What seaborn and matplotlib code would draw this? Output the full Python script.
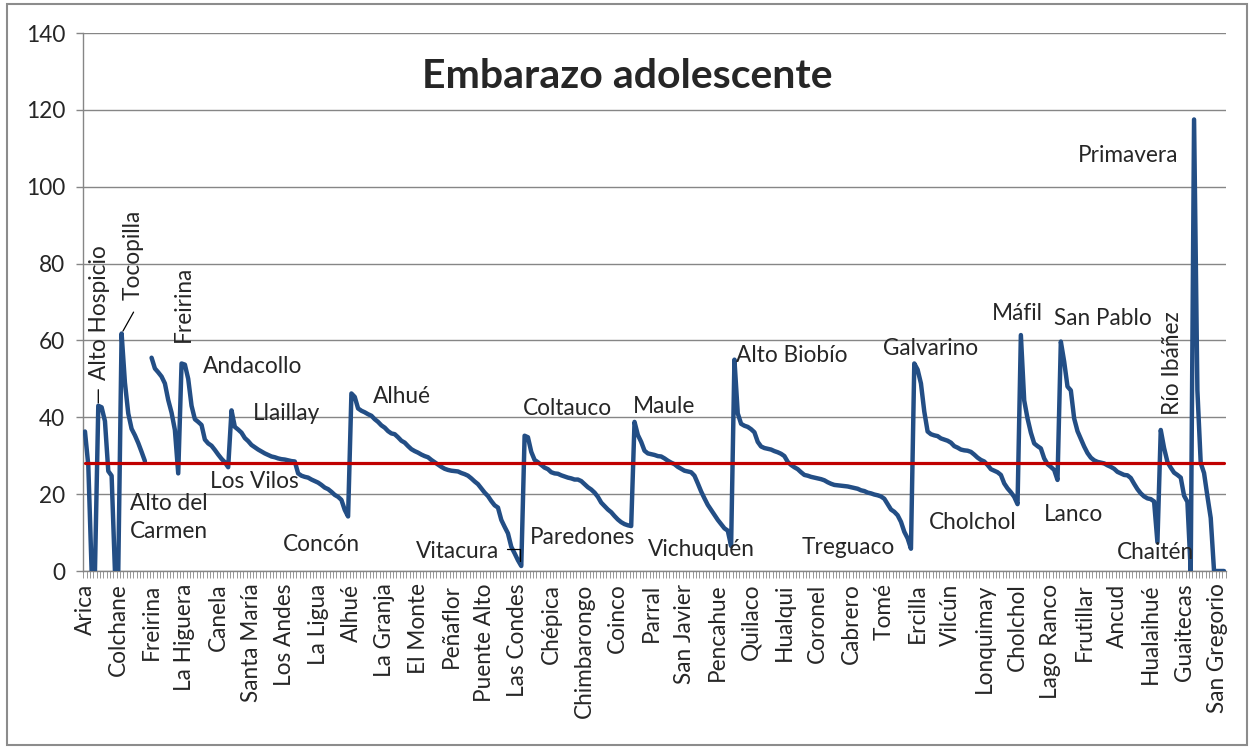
import numpy as np
import pandas as pd
import seaborn as sns
import matplotlib.pyplot as plt
from matplotlib.patches import Rectangle

# tasas por comuna, agrupadas por region (cada region ordenada de mayor a menor)
arica_parinacota = [36.3, 27.5, 0.0, 0.0]
tarapaca = [43.0, 42.6, 39.0, 26.0, 24.8, 0.0, 0.0]
antofagasta = [61.8, 49.0, 41.0, 37.0, 35.3, 33.3, 31.0, 28.6, None]
atacama = [55.5, 52.7, 51.7, 50.6, 48.8, 44.5, 41.2, 36.7, 25.4]
coquimbo = [54.0, 53.7, 50.0, 43.0, 39.5, 38.8, 38.0, 34.2, 33.2, 32.6, 31.5, 30.3,
            29.2, 28.3, 27.0]
valparaiso = [41.8, 37.5, 36.8, 36.0, 34.6, 33.8, 32.8, 32.2, 31.6, 31.1, 30.6, 30.2,
              29.8, 29.6, 29.3, 29.1, 29.0, 28.8, 28.6, 28.5, 25.4, 24.8, 24.5, 24.3,
              23.8, 23.4, 23.0, 22.4, 21.7, 21.3, 20.6, 19.8, 19.3, 18.5, 15.9, 14.2]
metropolitana = [46.2, 45.3, 42.3, 41.7, 41.3, 40.8, 40.4, 39.5, 38.8, 37.9, 37.3, 36.4,
                 35.8, 35.6, 34.8, 33.9, 33.4, 32.5, 31.7, 31.2, 30.8, 30.3, 29.9, 29.6,
                 28.9, 28.3, 27.7, 27.1, 26.6, 26.3, 26.1, 26.0, 25.9, 25.5, 25.2, 24.8,
                 24.1, 23.3, 22.6, 21.5, 20.4, 19.5, 18.2, 17.1, 16.5, 13.3, 11.5, 9.8,
                 6.3, 4.6, 2.8, 1.3]
ohiggins = [35.2, 34.8, 31.0, 28.9, 28.3, 27.6, 26.9, 26.5, 25.7, 25.4, 25.3, 24.9,
            24.6, 24.3, 24.1, 23.8, 23.8, 23.4, 22.6, 21.8, 21.2, 20.4, 19.3, 17.8,
            16.9, 16.0, 15.3, 14.3, 13.4, 12.7, 12.2, 11.9, 11.7]
maule = [38.8, 35.4, 33.6, 31.3, 30.6, 30.4, 30.2, 29.9, 29.8, 29.3, 28.7, 28.2,
         27.8, 27.1, 26.6, 26.1, 25.9, 25.7, 24.8, 22.8, 20.7, 18.9, 17.2, 15.9,
         14.6, 13.3, 12.2, 11.1, 10.5, 6.5]
biobio = [55.0, 41.0, 38.3, 37.8, 37.5, 36.9, 36.1, 33.6, 32.4, 32.0, 31.8, 31.6,
          31.2, 30.9, 30.5, 29.9, 28.4, 27.6, 27.0, 26.5, 25.7, 25.0, 24.8, 24.5,
          24.3, 24.1, 23.9, 23.6, 23.1, 22.7, 22.4, 22.3, 22.2, 22.1, 22.0, 21.8,
          21.6, 21.4, 21.0, 20.8, 20.4, 20.2, 19.9, 19.7, 19.4, 18.8, 17.4, 16.0,
          15.4, 14.5, 12.8, 10.2, 8.5, 5.8]
araucania = [54.0, 52.4, 48.8, 41.5, 36.3, 35.6, 35.3, 35.1, 34.5, 34.2, 33.9, 33.4,
             32.5, 32.1, 31.6, 31.4, 31.3, 31.0, 30.3, 29.5, 28.9, 28.5, 27.6, 26.5,
             26.1, 25.7, 25.0, 22.8, 21.5, 20.5, 19.3, 17.4]
los_rios = [61.4, 44.4, 39.7, 36.0, 33.2, 32.5, 31.9, 29.3, 27.8, 27.1, 26.3, 23.7]
los_lagos = [59.7, 54.5, 48.0, 47.0, 39.7, 36.4, 34.4, 32.4, 30.7, 29.5, 28.8, 28.4,
             28.2, 28.0, 27.5, 27.1, 26.6, 25.8, 25.4, 25.0, 24.9, 24.2, 22.7, 21.3,
             20.2, 19.4, 18.9, 18.7, 18.1, 7.5]
aysen = [36.7, 32.0, 28.4, 26.9, 25.6, 25.0, 24.3, 19.6, 18.0, 0.0]
magallanes = [117.5, 47.0, 28.1, 25.5, 19.5, 13.8, 0.0, 0.0, 0.0, 0.0]

media_nacional = 28.1

# una etiqueta cada 10 comunas, como en el grafico de excel
etiquetas = ["Arica", "Colchane", "Freirina", "La Higuera", "Canela", "Santa María",
             "Los Andes", "La Ligua", "Alhué", "La Granja", "El Monte", "Peñaflor",
             "Puente Alto", "Las Condes", "Chépica", "Chimbarongo", "Coinco", "Parral",
             "San Javier", "Pencahue", "Quilaco", "Hualqui", "Coronel", "Cabrero",
             "Tomé", "Ercilla", "Vilcún", "Lonquimay", "Cholchol", "Lago Ranco",
             "Frutillar", "Ancud", "Hualaihué", "Guaitecas", "San Gregorio"]

regiones = [arica_parinacota, tarapaca, antofagasta, atacama, coquimbo, valparaiso,
            metropolitana, ohiggins, maule, biobio, araucania, los_rios, los_lagos,
            aysen, magallanes]
tasa = [v for r in regiones for v in r]
n = len(tasa)

df = pd.DataFrame({"comuna": np.arange(n), "tasa": pd.to_numeric(pd.Series(tasa), errors="coerce")})
df["tramo"] = df["tasa"].isna().cumsum()
df_linea = df.dropna()

sns.set_theme(style="white")
plt.rcParams["font.family"] = ["Lato", "DejaVu Sans"]

W, H = 1251, 749
fig = plt.figure(figsize=(W / 100, H / 100), dpi=100)
ax = fig.add_axes([83.3 / W, 178 / H, 1142.4 / W, 538 / H])

gris = "#868686"
azul = "#234E85"
rojo = "#C00000"

sns.lineplot(data=df_linea, x="comuna", y="tasa", units="tramo", estimator=None,
             color=azul, linewidth=3.2, ax=ax, legend=False, zorder=3)
sns.lineplot(x=df["comuna"], y=[media_nacional] * n, color=rojo, linewidth=2.3,
             ax=ax, legend=False, zorder=4)

ax.set_xlim(-0.5, n - 0.5)
ax.set_ylim(0, 140)
ax.set_yticks(range(0, 141, 20))
ax.yaxis.grid(True, color=gris, linewidth=1)
ax.set_axisbelow(True)
for s in ["top", "right"]:
    ax.spines[s].set_visible(False)
for s in ["left", "bottom"]:
    ax.spines[s].set_color(gris)
    ax.spines[s].set_linewidth(1)

fs = 16.3
ax.set_xticks(np.arange(0, n, 10)[:len(etiquetas)])
ax.set_xticklabels(etiquetas, rotation=90, fontsize=fs)
ax.set_xticks(np.arange(-0.5, n, 1), minor=True)
ax.tick_params(axis="x", which="major", length=0, pad=9)
ax.tick_params(axis="x", which="minor", length=5, width=0.6, color=gris, direction="out")
ax.tick_params(axis="y", length=5, width=1, color=gris, direction="out", pad=8, labelsize=fs)
ax.tick_params(left=True, bottom=True, which="both")
ax.set_xlabel("")
ax.set_ylabel("")

ax.text(0.476, 0.92, "Embarazo adolescente", transform=ax.transAxes, ha="center",
        va="center", fontsize=29.5, fontweight="bold")

# etiquetas horizontales
notas = [("Andacollo", 35.4, 53.3), ("Llaillay", 50.5, 41.1), ("Los Vilos", 37.6, 23.2),
         ("Concón", 59.5, 7.0), ("Alhué", 86.5, 45.5), ("Coltauco", 131.5, 42.2),
         ("Paredones", 133.6, 8.8), ("Maule", 164.6, 42.9), ("Vichuquén", 169.1, 5.5),
         ("Alto Biobío", 195.5, 56.2), ("Treguaco", 215.3, 6.0), ("Galvarino", 239.6, 57.8),
         ("Cholchol", 253.4, 12.5), ("Máfil", 272.4, 67.1), ("San Pablo", 291.0, 65.8),
         ("Lanco", 288.0, 14.8), ("Primavera", 298.1, 108.2), ("Chaitén", 309.8, 4.9)]
for txt, xi, yv in notas:
    ax.text(xi, yv, txt, ha="left", va="center", fontsize=fs, zorder=5)

ax.text(13.5, 14.0, "Alto del\nCarmen", ha="left", va="center", fontsize=fs,
        linespacing=1.4, zorder=5)

# etiquetas verticales
ax.text(4.5, 49.7, "Alto Hospicio", rotation=90, ha="center", va="bottom", fontsize=fs)
ax.text(14.5, 70.5, "Tocopilla", rotation=90, ha="center", va="bottom", fontsize=fs)
ax.text(29.5, 59.6, "Freirina", rotation=90, ha="center", va="bottom", fontsize=fs)
ax.text(326.5, 40.6, "Río Ibáñez", rotation=90, ha="center", va="bottom", fontsize=fs)

# lineas guia
ax.annotate("", xy=(4, df["tasa"][4]), xytext=(4, 47.9),
            arrowprops=dict(arrowstyle="-", color="black", lw=0.9))
ax.annotate("", xy=(11, df["tasa"][11]), xytext=(15.0, 68.0),
            arrowprops=dict(arrowstyle="-", color="black", lw=0.9))
ax.text(99.4, 5.2, "Vitacura", ha="left", va="center", fontsize=fs, zorder=5)
ax.annotate("", xy=(130.5, 2.0), xytext=(126.0, 5.8),
            arrowprops=dict(arrowstyle="-", color="black", lw=0.9,
                            connectionstyle="angle,angleA=0,angleB=90,rad=0"))

fig.patches.append(Rectangle((7 / W, 4 / H), 1240 / W, 741 / H, transform=fig.transFigure,
                             fill=False, edgecolor="#8C8C8C", linewidth=1.5))

fig.savefig("out.png", dpi=100, facecolor="white")
